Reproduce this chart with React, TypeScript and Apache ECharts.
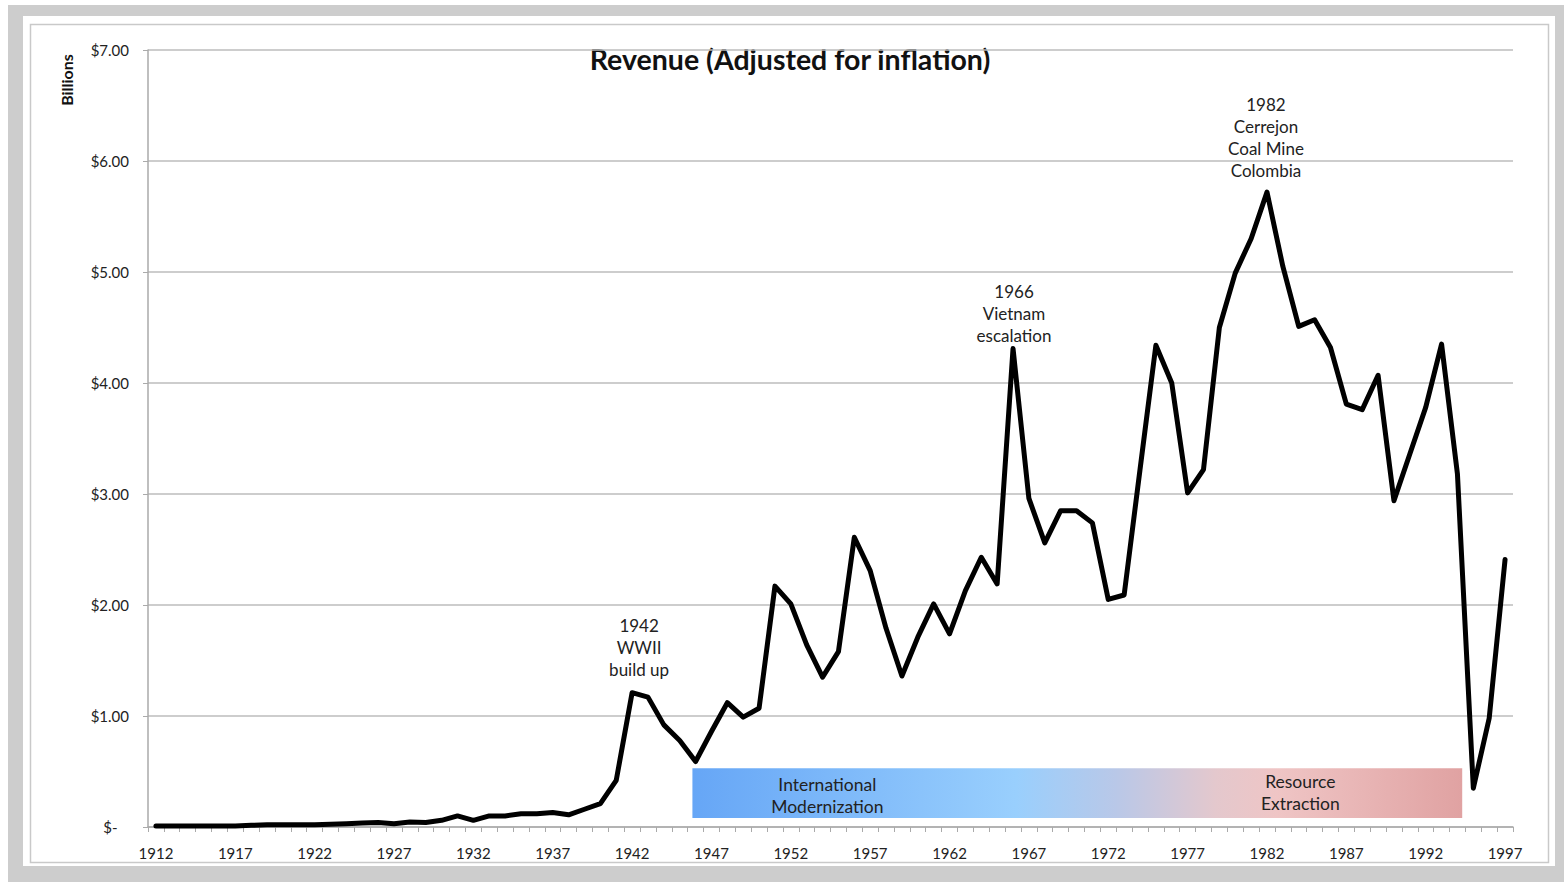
import React, { useEffect, useRef } from "react";
import * as echarts from "echarts";

const years: string[] = [
  "1912", "1913", "1914", "1915", "1916", "1917", "1918", "1919", "1920", "1921",
  "1922", "1923", "1924", "1925", "1926", "1927", "1928", "1929", "1930", "1931",
  "1932", "1933", "1934", "1935", "1936", "1937", "1938", "1939", "1940", "1941",
  "1942", "1943", "1944", "1945", "1946", "1947", "1948", "1949", "1950", "1951",
  "1952", "1953", "1954", "1955", "1956", "1957", "1958", "1959", "1960", "1961",
  "1962", "1963", "1964", "1965", "1966", "1967", "1968", "1969", "1970", "1971",
  "1972", "1973", "1974", "1975", "1976", "1977", "1978", "1979", "1980", "1981",
  "1982", "1983", "1984", "1985", "1986", "1987", "1988", "1989", "1990", "1991",
  "1992", "1993", "1994", "1995", "1996", "1997",
];

// Revenue in billions of dollars (adjusted for inflation)
const revenue: number[] = [
  0.01, 0.01, 0.01, 0.01, 0.01, 0.01, 0.015, 0.02, 0.02, 0.02,
  0.02, 0.025, 0.03, 0.035, 0.04, 0.03, 0.045, 0.04, 0.06, 0.1,
  0.06, 0.1, 0.1, 0.12, 0.12, 0.13, 0.11, 0.16, 0.21, 0.42,
  1.21, 1.17, 0.92, 0.78, 0.59, 0.86, 1.12, 0.99, 1.07, 2.17,
  2.01, 1.64, 1.35, 1.58, 2.61, 2.31, 1.79, 1.36, 1.71, 2.01,
  1.74, 2.13, 2.43, 2.19, 4.31, 2.96, 2.56, 2.85, 2.85, 2.74,
  2.05, 2.09, 3.22, 4.34, 4.0, 3.01, 3.22, 4.5, 4.99, 5.3,
  5.72, 5.05, 4.51, 4.57, 4.32, 3.81, 3.76, 4.07, 2.94, 3.36,
  3.78, 4.35, 3.18, 0.35, 0.98, 2.41,
];

const yTicks: number[] = [0, 1, 2, 3, 4, 5, 6, 7];

const annotations = [
  { year: "1942", value: 1.21, text: "1942\nWWII\nbuild up", dx: 7, gap: 12 },
  { year: "1966", value: 4.31, text: "1966\nVietnam\nescalation", dx: 1, gap: 2 },
  { year: "1982", value: 5.72, text: "1982\nCerrejon\nCoal Mine\nColombia", dx: -1, gap: 10 },
];

// era band, in fractional years on a hidden value axis spanning the same grid
const yearSpan = { min: 1911.5, max: 1997.5 };
const eraBand = { from: 1945.8, to: 1994.3, low: 0.08, high: 0.53 };
const eraLabels = [
  { year: 1954.3, value: 0.28, text: "International\nModernization" },
  { year: 1984.1, value: 0.31, text: "Resource\nExtraction" },
];

const FONT = "Lato, 'Open Sans', sans-serif";

export default function App() {
  const ref = useRef<HTMLDivElement>(null);

  useEffect(() => {
    document.body.style.margin = "0";
    if (!ref.current) return;
    const chart = echarts.init(ref.current, null, { renderer: "svg" });

    const annotationPoints: any[] = annotations.map((a) => ({
      coord: [a.year, a.value],
      label: {
        show: true,
        position: "top",
        distance: 0,
        offset: [a.dx, -a.gap],
        formatter: a.text,
        fontSize: 17,
        lineHeight: 22,
        color: "#222",
        fontFamily: FONT,
        align: "center",
      },
    }));

    const eraPoints: any[] = eraLabels.map((e) => ({
      coord: [e.year, e.value],
      label: {
        show: true,
        position: "inside",
        formatter: e.text,
        fontSize: 17.5,
        lineHeight: 22,
        color: "#222",
        fontFamily: FONT,
        align: "center",
      },
    }));

    chart.setOption({
      animation: false,
      backgroundColor: "#ffffff",
      graphic: [
        { type: "rect", z: -10, shape: { x: 8, y: 5, width: 1556, height: 877 }, style: { fill: "#cdcdcd" }, silent: true },
        { type: "rect", z: -9, shape: { x: 23, y: 16, width: 1532, height: 850 }, style: { fill: "#ffffff" }, silent: true },
        { type: "rect", z: -8, shape: { x: 30.5, y: 24.5, width: 1518, height: 838 }, style: { fill: "none", stroke: "#c9c9c9", lineWidth: 1.5 }, silent: true },
        {
          type: "text",
          x: 790,
          y: 59,
          style: {
            text: "Revenue (Adjusted for inflation)",
            fontSize: 28.5,
            fontWeight: "bold",
            fontFamily: FONT,
            fill: "#111",
            textAlign: "center",
            textVerticalAlign: "middle",
          },
        },
        {
          type: "text",
          x: 66,
          y: 80,
          rotation: Math.PI / 2,
          style: {
            text: "Billions",
            fontSize: 16,
            fontWeight: "bold",
            fontFamily: FONT,
            fill: "#111",
            textAlign: "center",
            textVerticalAlign: "middle",
          },
        },
      ],
      grid: { left: 148, right: 51, top: 50, bottom: 55, containLabel: false },
      xAxis: [
        {
          type: "category",
          data: years,
          boundaryGap: true,
          axisLine: { show: true, lineStyle: { color: "#aaaaaa", width: 1.5 } },
          axisTick: { show: true, interval: 0, alignWithLabel: false, length: 5, lineStyle: { color: "#aaaaaa" } },
          axisLabel: { interval: 4, margin: 18, fontSize: 15, fontFamily: FONT, color: "#222" },
          splitLine: { show: false },
        },
        {
          type: "value",
          min: yearSpan.min,
          max: yearSpan.max,
          show: false,
          splitLine: { show: false },
        },
      ],
      yAxis: {
        type: "value",
        min: yTicks[0],
        max: yTicks[yTicks.length - 1],
        interval: 1,
        axisLine: { show: true, lineStyle: { color: "#aaaaaa", width: 1.5 } },
        axisTick: { show: true, length: 5, lineStyle: { color: "#aaaaaa" } },
        axisLabel: {
          margin: 19,
          fontSize: 15,
          fontFamily: FONT,
          color: "#222",
          formatter: (v: number) => (v === 0 ? "$-   " : "$" + v.toFixed(2)),
        },
        splitLine: { show: true, lineStyle: { color: "#bdbdbd", width: 1.5 } },
      },
      series: [
        {
          type: "line",
          xAxisIndex: 1,
          data: [],
          silent: true,
          markArea: {
            silent: true,
            itemStyle: {
              color: new echarts.graphic.LinearGradient(0, 0, 1, 0, [
                { offset: 0, color: "#66a6f6" },
                { offset: 0.42, color: "#99cffd" },
                { offset: 0.55, color: "#b9c8e8" },
                { offset: 0.68, color: "#e4c8cd" },
                { offset: 0.76, color: "#efc5c5" },
                { offset: 1, color: "#e0a2a2" },
              ]),
            },
            data: [[{ xAxis: eraBand.from, yAxis: eraBand.low }, { xAxis: eraBand.to, yAxis: eraBand.high }]],
          },
          markPoint: {
            silent: true,
            symbol: "circle",
            symbolSize: 1,
            itemStyle: { color: "rgba(0,0,0,0)" },
            data: eraPoints,
          },
        },
        {
          type: "line",
          xAxisIndex: 0,
          data: revenue,
          symbol: "none",
          lineStyle: { color: "#000000", width: 5, cap: "round", join: "round" },
          z: 5,
          markPoint: {
            silent: true,
            symbol: "circle",
            symbolSize: 1,
            itemStyle: { color: "rgba(0,0,0,0)" },
            data: annotationPoints,
          },
        },
      ],
    });

    return () => chart.dispose();
  }, []);

  return <div ref={ref} style={{ width: 1564, height: 882 }} />;
}
